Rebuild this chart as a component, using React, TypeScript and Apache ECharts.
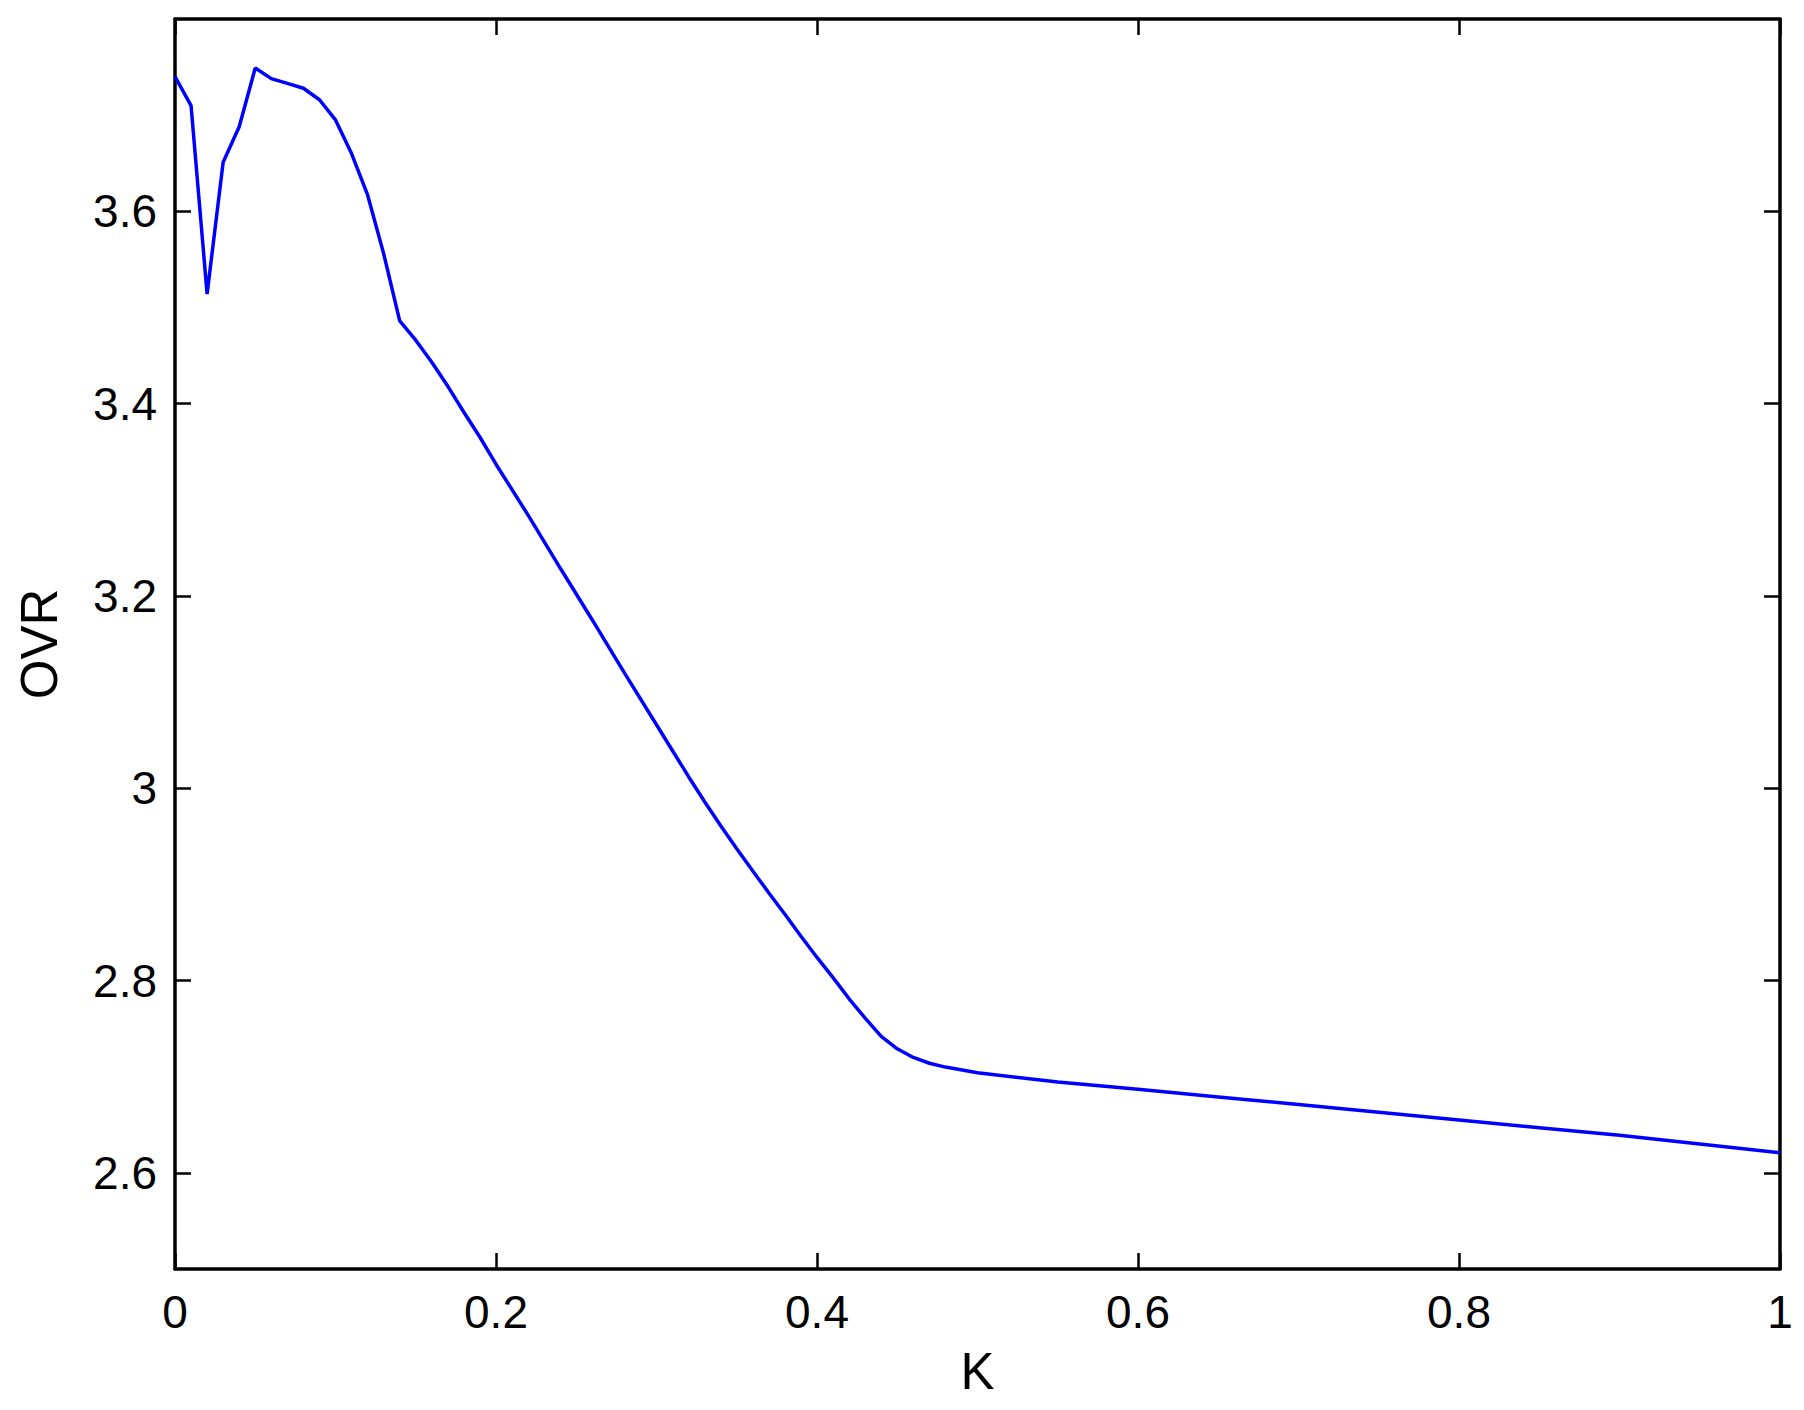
import React, { useEffect, useRef } from "react";
import * as echarts from "echarts";

const kValues = [
  0.0, 0.01, 0.02, 0.03, 0.04, 0.05, 0.06, 0.07, 0.08, 0.09, 0.1, 0.11, 0.12,
  0.13, 0.14, 0.15, 0.16, 0.17, 0.18, 0.19, 0.2, 0.22, 0.24, 0.26, 0.28, 0.3,
  0.31, 0.32, 0.33, 0.34, 0.35, 0.36, 0.37, 0.38, 0.39, 0.4, 0.41, 0.42, 0.43,
  0.44, 0.45, 0.46, 0.47, 0.48, 0.5, 0.55, 0.6, 0.65, 0.7, 0.75, 0.8, 0.85,
  0.9, 0.95, 1.0,
];

const ovrValues = [
  3.74, 3.71, 3.514, 3.651, 3.688, 3.749, 3.738, 3.733, 3.728, 3.716, 3.695,
  3.66, 3.617, 3.556, 3.486, 3.466, 3.443, 3.418, 3.391, 3.365, 3.337, 3.284,
  3.229, 3.175, 3.12, 3.066, 3.039, 3.012, 2.986, 2.961, 2.937, 2.914, 2.891,
  2.869, 2.846, 2.824, 2.803, 2.781, 2.761, 2.742, 2.729, 2.72, 2.714, 2.71,
  2.704, 2.6945, 2.687, 2.679, 2.671, 2.663, 2.655, 2.647, 2.639, 2.63, 2.621,
];

const yTickValues = [2.6, 2.8, 3.0, 3.2, 3.4, 3.6];

const xName = "K";
const yName = "OVR";

const FONT = "'Liberation Sans', Arial, Helvetica, sans-serif";

export default function App() {
  const ref = useRef<HTMLDivElement>(null);

  useEffect(() => {
    if (!ref.current) return;
    const chart = echarts.init(ref.current, undefined, { renderer: "svg" });

    const axisLine = { show: true, onZero: false, lineStyle: { color: "#000", width: 3.5 } };
    const tick = { show: true, inside: true, length: 16, lineStyle: { color: "#000", width: 2.5 } };

    const data = kValues.map((k, i) => [k, ovrValues[i]]);

    chart.setOption({
      animation: false,
      backgroundColor: "#ffffff",
      grid: { left: 175, right: 24, top: 19, bottom: 141, containLabel: false },
      xAxis: [
        {
          type: "value",
          position: "bottom",
          min: 0,
          max: 1,
          interval: 0.2,
          axisLine,
          axisTick: tick,
          splitLine: { show: false },
          axisLabel: {
            color: "#000",
            fontSize: 46,
            fontFamily: FONT,
            margin: 20,
            formatter: (v: number) => String(Math.round(v * 10) / 10),
          },
          name: xName,
          nameLocation: "middle",
          nameGap: 77,
          nameTextStyle: { color: "#000", fontSize: 51, fontFamily: FONT },
        },
        {
          type: "value",
          position: "top",
          min: 0,
          max: 1,
          interval: 0.2,
          axisLine,
          axisTick: tick,
          splitLine: { show: false },
          axisLabel: { show: false },
        },
      ],
      yAxis: [
        {
          type: "value",
          position: "left",
          min: 2.5,
          max: 3.8,
          axisLine,
          axisTick: { ...tick, customValues: yTickValues },
          splitLine: { show: false },
          axisLabel: {
            color: "#000",
            fontSize: 46,
            fontFamily: FONT,
            margin: 18,
            customValues: yTickValues,
            formatter: (v: number) => String(Math.round(v * 10) / 10),
          },
          name: yName,
          nameLocation: "middle",
          nameGap: 110,
          nameTextStyle: { color: "#000", fontSize: 51, fontFamily: FONT },
        },
        {
          type: "value",
          position: "right",
          min: 2.5,
          max: 3.8,
          axisLine,
          axisTick: { ...tick, customValues: yTickValues },
          splitLine: { show: false },
          axisLabel: { show: false, customValues: yTickValues },
        },
      ],
      series: [
        {
          type: "line",
          xAxisIndex: 0,
          yAxisIndex: 0,
          data,
          showSymbol: false,
          symbol: "none",
          lineStyle: { color: "#0000ff", width: 3.5 },
          itemStyle: { color: "#0000ff" },
        },
      ],
    });

    return () => chart.dispose();
  }, []);

  return (
    <div
      ref={ref}
      style={{ position: "absolute", left: 0, top: 0, width: 1804, height: 1410, background: "#fff" }}
    />
  );
}
